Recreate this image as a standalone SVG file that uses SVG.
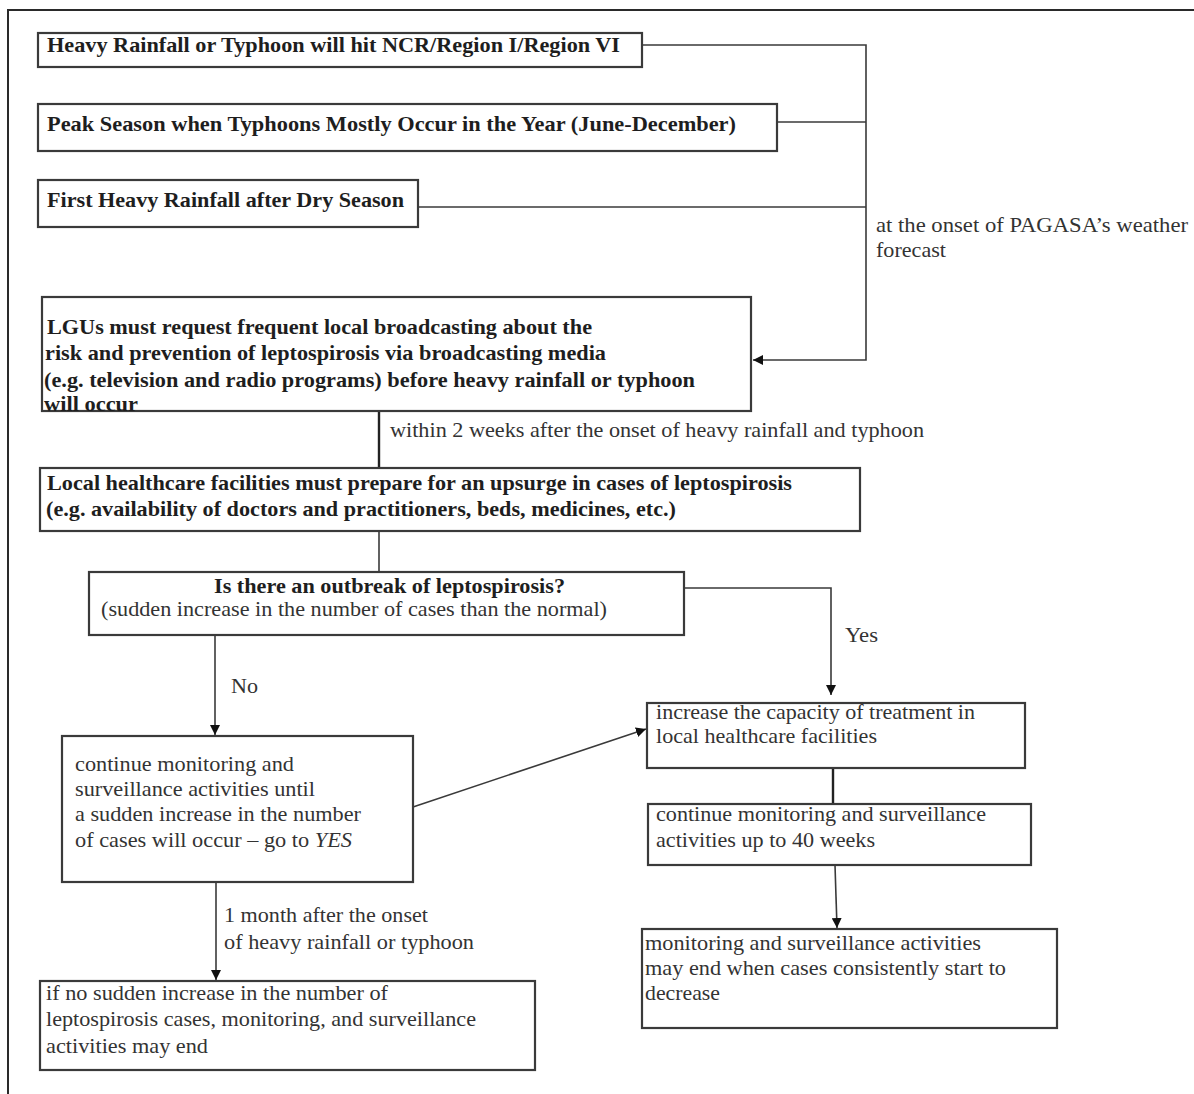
<svg xmlns="http://www.w3.org/2000/svg" width="1194" height="1094" viewBox="0 0 1194 1094">
<defs>
<style>
.box{fill:#fff;stroke:#3a3a3a;stroke-width:2.2}
.frame{fill:#fff;stroke:#2a2a2a;stroke-width:2}
.con{fill:none;stroke:#3a3a3a;stroke-width:1.6}
.conb{fill:none;stroke:#222;stroke-width:2.4}
.b{font-family:"Liberation Serif","Times New Roman",serif;font-weight:bold;font-size:22px;fill:#1e1e1e}
.r{font-family:"Liberation Serif","Times New Roman",serif;font-size:21px;fill:#333}
</style>
<marker id="arr" viewBox="0 0 10 10" refX="10" refY="5" markerWidth="10" markerHeight="10" markerUnits="userSpaceOnUse" orient="auto">
<path d="M0,0 L10,5 L0,10 z" fill="#111"/>
</marker>
</defs>
<rect x="8" y="10" width="1200" height="1100" class="frame"/>

<g id="connectors">
<polyline class="con" points="642,45 866,45 866,360 753,360" marker-end="url(#arr)"/>
<line class="con" x1="777" y1="122" x2="866" y2="122"/>
<line class="con" x1="418" y1="207" x2="866" y2="207"/>
<line class="conb" x1="379" y1="411" x2="379" y2="469"/>
<line class="con" x1="379" y1="521" x2="379" y2="580"/>
<polyline class="con" points="684,588 831,588 831,695" marker-end="url(#arr)"/>
<line class="con" x1="215" y1="635" x2="215" y2="735" marker-end="url(#arr)"/>
<line class="con" x1="413" y1="807" x2="646" y2="729" marker-end="url(#arr)"/>
<line class="conb" x1="833" y1="768" x2="833" y2="804"/>
<line class="con" x1="835" y1="865" x2="837" y2="928" marker-end="url(#arr)"/>
<line class="con" x1="216" y1="882" x2="216" y2="980" marker-end="url(#arr)"/>
<text class="r" x="876" y="232" textLength="312" lengthAdjust="spacingAndGlyphs">at the onset of PAGASA’s weather</text>
<text class="r" x="876" y="257" textLength="70" lengthAdjust="spacingAndGlyphs">forecast</text>
<text class="r" x="390" y="437" textLength="534" lengthAdjust="spacingAndGlyphs">within 2 weeks after the onset of heavy rainfall and typhoon</text>
<text class="r" x="845" y="642" textLength="33" lengthAdjust="spacingAndGlyphs">Yes</text>
<text class="r" x="231" y="693" textLength="27" lengthAdjust="spacingAndGlyphs">No</text>
<text class="r" x="224" y="922" textLength="204" lengthAdjust="spacingAndGlyphs">1 month after the onset</text>
<text class="r" x="224" y="949" textLength="250" lengthAdjust="spacingAndGlyphs">of heavy rainfall or typhoon</text>
</g>

<g id="n1">
<rect class="box" x="38" y="33" width="604" height="34"/>
<text class="b" x="47" y="52" textLength="573" lengthAdjust="spacingAndGlyphs">Heavy Rainfall or Typhoon will hit NCR/Region I/Region VI</text>
</g>
<g id="n2">
<rect class="box" x="38" y="104" width="739" height="47"/>
<text class="b" x="47" y="131" textLength="689" lengthAdjust="spacingAndGlyphs">Peak Season when Typhoons Mostly Occur in the Year (June-December)</text>
</g>
<g id="n3">
<rect class="box" x="38" y="180" width="380" height="47"/>
<text class="b" x="47" y="207" textLength="357" lengthAdjust="spacingAndGlyphs">First Heavy Rainfall after Dry Season</text>
</g>
<g id="n4">
<rect class="box" x="42" y="297" width="709" height="114"/>
<text class="b" x="47" y="334" textLength="545" lengthAdjust="spacingAndGlyphs">LGUs must request frequent local broadcasting about the</text>
<text class="b" x="45" y="360" textLength="561" lengthAdjust="spacingAndGlyphs">risk and prevention of leptospirosis via broadcasting media</text>
<text class="b" x="44" y="387" textLength="651" lengthAdjust="spacingAndGlyphs">(e.g. television and radio programs) before heavy rainfall or typhoon</text>
<text class="b" x="44" y="411" textLength="94" lengthAdjust="spacingAndGlyphs">will occur</text>
</g>
<g id="n5">
<rect class="box" x="40" y="468" width="820" height="63"/>
<text class="b" x="47" y="490" textLength="745" lengthAdjust="spacingAndGlyphs">Local healthcare facilities must prepare for an upsurge in cases of leptospirosis</text>
<text class="b" x="46" y="516" textLength="630" lengthAdjust="spacingAndGlyphs">(e.g. availability of doctors and practitioners, beds, medicines, etc.)</text>
</g>
<g id="n6">
<rect class="box" x="89" y="572" width="595" height="63"/>
<text class="b" x="214" y="593" textLength="351" lengthAdjust="spacingAndGlyphs">Is there an outbreak of leptospirosis?</text>
<text class="r" x="101" y="616" textLength="506" lengthAdjust="spacingAndGlyphs">(sudden increase in the number of cases than the normal)</text>
</g>
<g id="n7">
<rect class="box" x="62" y="736" width="351" height="146"/>
<text class="r" x="75" y="771" textLength="219" lengthAdjust="spacingAndGlyphs">continue monitoring and</text>
<text class="r" x="75" y="796" textLength="240" lengthAdjust="spacingAndGlyphs">surveillance activities until</text>
<text class="r" x="75" y="821" textLength="286" lengthAdjust="spacingAndGlyphs">a sudden increase in the number</text>
<text class="r" x="75" y="847" textLength="277" lengthAdjust="spacingAndGlyphs">of cases will occur – go to <tspan font-style="italic">YES</tspan></text>
</g>
<g id="n8">
<rect class="box" x="647" y="703" width="378" height="65"/>
<text class="r" x="656" y="719" textLength="319" lengthAdjust="spacingAndGlyphs">increase the capacity of treatment in</text>
<text class="r" x="656" y="743" textLength="221" lengthAdjust="spacingAndGlyphs">local healthcare facilities</text>
</g>
<g id="n9">
<rect class="box" x="648" y="804" width="383" height="61"/>
<text class="r" x="656" y="821" textLength="330" lengthAdjust="spacingAndGlyphs">continue monitoring and surveillance</text>
<text class="r" x="656" y="847" textLength="219" lengthAdjust="spacingAndGlyphs">activities up to 40 weeks</text>
</g>
<g id="n10">
<rect class="box" x="642" y="929" width="415" height="99"/>
<text class="r" x="645" y="950" textLength="336" lengthAdjust="spacingAndGlyphs">monitoring and surveillance activities</text>
<text class="r" x="645" y="975" textLength="361" lengthAdjust="spacingAndGlyphs">may end when cases consistently start to</text>
<text class="r" x="645" y="1000" textLength="75" lengthAdjust="spacingAndGlyphs">decrease</text>
</g>
<g id="n11">
<rect class="box" x="40" y="981" width="495" height="89"/>
<text class="r" x="46" y="1000" textLength="342" lengthAdjust="spacingAndGlyphs">if no sudden increase in the number of</text>
<text class="r" x="46" y="1026" textLength="430" lengthAdjust="spacingAndGlyphs">leptospirosis cases, monitoring, and surveillance</text>
<text class="r" x="46" y="1053" textLength="162" lengthAdjust="spacingAndGlyphs">activities may end</text>
</g>
</svg>
